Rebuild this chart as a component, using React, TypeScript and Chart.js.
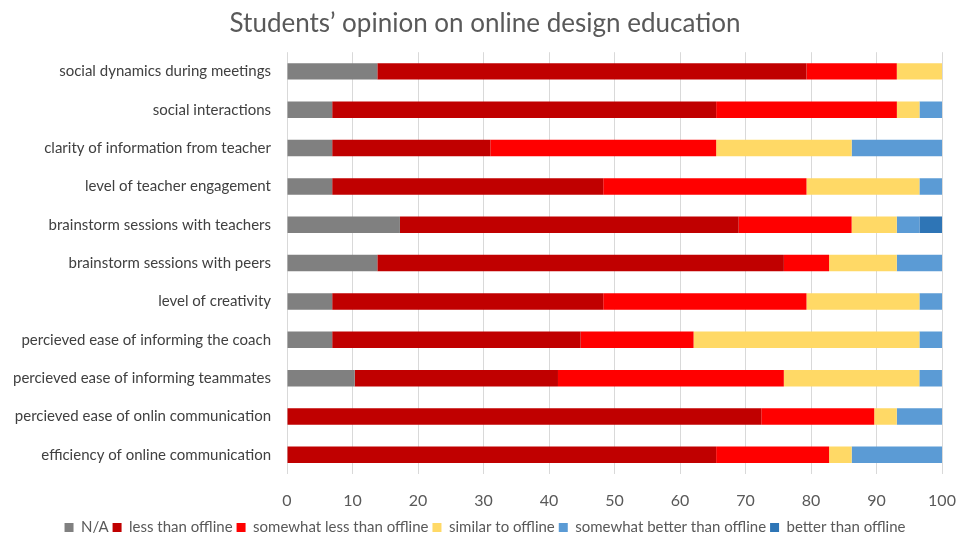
import React, { useEffect, useRef } from "react";
import { Chart, registerables } from "chart.js";

Chart.register(...registerables);

const categories = [
  "social dynamics during meetings",
  "social interactions",
  "clarity of information from teacher",
  "level of teacher engagement",
  "brainstorm sessions with teachers",
  "brainstorm sessions with peers",
  "level of creativity",
  "percieved ease of informing the coach",
  "percieved ease of informing teammates",
  "percieved ease of onlin communication",
  "efficiency of online communication",
];

const naValues = [13.79, 6.9, 6.9, 6.9, 17.24, 13.79, 6.9, 6.9, 10.34, 0, 0];
const lessValues = [65.52, 58.62, 24.14, 41.38, 51.72, 62.07, 41.38, 37.93, 31.03, 72.41, 65.52];
const somewhatLessValues = [13.79, 27.59, 34.48, 31.03, 17.24, 6.9, 31.03, 17.24, 34.48, 17.24, 17.24];
const similarValues = [6.9, 3.45, 20.69, 17.24, 6.9, 10.34, 17.24, 34.48, 20.69, 3.45, 3.45];
const somewhatBetterValues = [0, 3.45, 13.79, 3.45, 3.45, 6.9, 3.45, 3.45, 3.45, 6.9, 13.79];
const betterValues = [0, 0, 0, 0, 3.45, 0, 0, 0, 0, 0, 0];

const seriesLabels = [
  "N/A",
  "less than offline",
  "somewhat less than offline",
  "similar to offline",
  "somewhat better than offline",
  "better than offline",
];
const seriesColors = ["#808080", "#C00000", "#FF0000", "#FFD966", "#5B9BD5", "#2E75B6"];
const xTicks = [0, 10, 20, 30, 40, 50, 60, 70, 80, 90, 100];

export default function App() {
  const ref = useRef<HTMLCanvasElement | null>(null);
  useEffect(() => {
    if (!ref.current) return;
    const values = [naValues, lessValues, somewhatLessValues, similarValues, somewhatBetterValues, betterValues];
    const chart = new Chart(ref.current, {
      type: "bar",
      data: {
        labels: categories,
        datasets: values.map((v, i) => ({
          label: seriesLabels[i],
          data: v,
          backgroundColor: seriesColors[i],
          borderWidth: 0,
          categoryPercentage: 1,
          barPercentage: 0.43,
        })),
      },
      options: {
        indexAxis: "y",
        animation: false,
        responsive: false,
        layout: { padding: { left: 14, right: 0, top: 4, bottom: 0 } },
        scales: {
          x: {
            stacked: true,
            min: 0,
            max: 100,
            afterBuildTicks: (s: any) => {
              s.ticks = xTicks.map((v) => ({ value: v }));
            },
            afterFit: (s: any) => {
              s.height = 42;
              s.paddingRight = 14;
              s.paddingLeft = 0;
            },
            grid: { color: "#d9d9d9", lineWidth: 1, drawTicks: false },
            border: { display: false },
            ticks: { color: "#595959", font: { family: "Lato", size: 16 }, padding: 17 },
          },
          y: {
            stacked: true,
            afterFit: (s: any) => {
              s.width = 273;
            },
            grid: { display: false, drawTicks: false },
            border: { display: false },
            ticks: { color: "#404040", font: { family: "Lato", size: 15 }, padding: 16 },
          },
        },
        plugins: {
          title: {
            display: true,
            text: "Students’ opinion on online design education",
            color: "#595959",
            font: { family: "Lato", size: 26, weight: "normal" },
            padding: { top: 4, bottom: 13 },
          },
          legend: {
            position: "bottom",
            labels: {
              color: "#595959",
              font: { family: "Lato", size: 15 },
              boxWidth: 9,
              boxHeight: 9,
              padding: 4,
            },
          },
          tooltip: { enabled: false },
        },
      },
    });
    return () => chart.destroy();
  }, []);
  return (
    <div style={{ position: "fixed", left: 0, top: 0, width: 956, height: 536, overflow: "hidden", background: "#fff" }}>
      <canvas ref={ref} width={956} height={545} style={{ width: 956, height: 545, display: "block" }} />
    </div>
  );
}
